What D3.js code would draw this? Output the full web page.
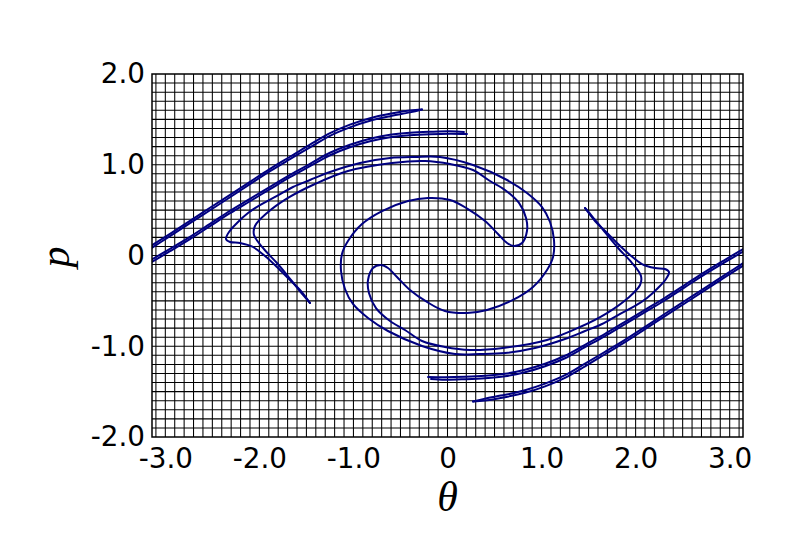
<!DOCTYPE html>
<html><head><meta charset="utf-8">
<script src="https://cdn.jsdelivr.net/npm/d3@7"></script>
<style>body{margin:0;background:#fff}svg{display:block}</style>
</head><body>
<svg id="c" width="789" height="541"></svg>
<script>
// ---- data (theta, p) ----
const xTicks = [-3, -2, -1, 0, 1, 2, 3];
const xTickLabels = ["-3.0", "-2.0", "-1.0", "0", "1.0", "2.0", "3.0"];
const yTicks = [-2, -1, 0, 1, 2];
const yTickLabels = ["-2.0", "-1.0", "0", "1.0", "2.0"];

const loopOuter = [[-1.462,-0.523],[-1.568,-0.380],[-1.675,-0.270],[-1.813,-0.127],[-1.940,-0.006],[-2.068,0.094],[-2.206,0.138],[-2.312,0.149],[-2.355,0.182],[-2.323,0.259],[-2.238,0.358],[-2.121,0.468],[-1.994,0.556],[-1.813,0.656],[-1.643,0.755],[-1.462,0.832],[-1.249,0.920],[-0.930,1.019],[-0.611,1.074],[-0.346,1.085],[-0.080,1.085],[0.271,0.997],[0.633,0.832],[0.845,0.689],[1.005,0.534],[1.090,0.369],[1.132,0.171],[1.122,-0.017],[1.058,-0.160],[0.909,-0.347],[0.696,-0.490],[0.420,-0.601],[0.207,-0.634],[-0.027,-0.612],[-0.218,-0.512],[-0.399,-0.380],[-0.537,-0.237],[-0.633,-0.138],[-0.707,-0.105],[-0.792,-0.138],[-0.845,-0.270],[-0.835,-0.413],[-0.760,-0.579],[-0.611,-0.722],[-0.452,-0.821],[-0.271,-0.942],[-0.027,-1.008],[0.239,-1.041],[0.590,-1.019],[1.058,-0.931],[1.409,-0.788],[1.696,-0.634],[1.919,-0.468],[2.047,-0.325],[2.057,-0.226],[1.962,-0.083],[1.813,0.083],[1.664,0.270],[1.536,0.435],[1.462,0.523]];

const loopInner = [[1.462,0.523],[1.568,0.380],[1.675,0.270],[1.813,0.127],[1.940,0.006],[2.068,-0.094],[2.206,-0.138],[2.312,-0.149],[2.355,-0.182],[2.323,-0.259],[2.238,-0.358],[2.121,-0.468],[1.994,-0.556],[1.813,-0.656],[1.643,-0.755],[1.462,-0.832],[1.249,-0.920],[0.930,-1.019],[0.611,-1.074],[0.346,-1.085],[0.080,-1.085],[-0.271,-0.997],[-0.633,-0.832],[-0.845,-0.689],[-1.005,-0.534],[-1.090,-0.369],[-1.132,-0.171],[-1.122,0.017],[-1.058,0.160],[-0.909,0.347],[-0.696,0.490],[-0.420,0.601],[-0.207,0.634],[0.027,0.612],[0.218,0.512],[0.399,0.380],[0.537,0.237],[0.633,0.138],[0.707,0.105],[0.792,0.138],[0.845,0.270],[0.835,0.413],[0.760,0.579],[0.611,0.722],[0.452,0.821],[0.271,0.942],[0.027,1.008],[-0.239,1.041],[-0.590,1.019],[-1.058,0.931],[-1.409,0.788],[-1.696,0.634],[-1.919,0.468],[-2.047,0.325],[-2.057,0.226],[-1.962,0.083],[-1.813,-0.083],[-1.664,-0.270],[-1.536,-0.435],[-1.462,-0.523]];

const strandT1a = [[-3.184,0.085],[-2.950,0.239],[-2.738,0.382],[-2.525,0.526],[-2.312,0.669],[-2.100,0.812],[-1.887,0.955],[-1.675,1.088],[-1.462,1.222],[-1.249,1.348],[-1.037,1.442],[-0.824,1.513],[-0.611,1.561],[-0.399,1.597],[-0.271,1.609]];
const strandT1b = [[-3.184,0.058],[-2.950,0.213],[-2.738,0.356],[-2.525,0.499],[-2.312,0.642],[-2.100,0.786],[-1.887,0.929],[-1.675,1.061],[-1.462,1.191],[-1.249,1.319],[-1.037,1.412],[-0.824,1.484],[-0.611,1.535],[-0.399,1.577],[-0.271,1.609]];
const strandT2a = [[-3.184,-0.069],[-2.950,0.074],[-2.738,0.206],[-2.525,0.349],[-2.312,0.493],[-2.100,0.625],[-1.887,0.757],[-1.675,0.889],[-1.462,1.010],[-1.249,1.132],[-1.037,1.220],[-0.824,1.286],[-0.611,1.330],[-0.399,1.352],[-0.186,1.363],[0.027,1.369],[0.175,1.361]];
const strandT2b = [[-3.184,-0.096],[-2.950,0.047],[-2.738,0.180],[-2.525,0.323],[-2.312,0.466],[-2.100,0.598],[-1.887,0.731],[-1.675,0.863],[-1.462,0.984],[-1.249,1.105],[-1.037,1.193],[-0.824,1.259],[-0.611,1.304],[-0.399,1.326],[-0.186,1.337],[0.027,1.342],[0.207,1.339]];
const strandM1a = [[3.184,-0.085],[2.950,-0.239],[2.738,-0.382],[2.525,-0.526],[2.312,-0.669],[2.100,-0.812],[1.887,-0.955],[1.675,-1.088],[1.462,-1.222],[1.249,-1.348],[1.037,-1.442],[0.824,-1.513],[0.611,-1.561],[0.399,-1.597],[0.271,-1.609]];
const strandM1b = [[3.184,-0.058],[2.950,-0.213],[2.738,-0.356],[2.525,-0.499],[2.312,-0.642],[2.100,-0.786],[1.887,-0.929],[1.675,-1.061],[1.462,-1.191],[1.249,-1.319],[1.037,-1.412],[0.824,-1.484],[0.611,-1.535],[0.399,-1.577],[0.271,-1.609]];
const strandM2a = [[3.184,0.069],[2.950,-0.074],[2.738,-0.206],[2.525,-0.349],[2.312,-0.493],[2.100,-0.625],[1.887,-0.757],[1.675,-0.889],[1.462,-1.010],[1.249,-1.132],[1.037,-1.220],[0.824,-1.286],[0.611,-1.330],[0.399,-1.352],[0.186,-1.363],[-0.027,-1.369],[-0.175,-1.361]];
const strandM2b = [[3.184,0.096],[2.950,-0.047],[2.738,-0.180],[2.525,-0.323],[2.312,-0.466],[2.100,-0.598],[1.887,-0.731],[1.675,-0.863],[1.462,-0.984],[1.249,-1.105],[1.037,-1.193],[0.824,-1.259],[0.611,-1.304],[0.399,-1.326],[0.186,-1.337],[-0.027,-1.342],[-0.207,-1.339]];

const curves = [loopOuter, loopInner, strandT1a, strandT1b, strandT2a, strandT2b, strandM1a, strandM1b, strandM2a, strandM2b];

// ---- layout ----
const L = 152, R = 743, T = 74, B = 437;
const svg = d3.select("#c");
const x = d3.scaleLinear().domain([-Math.PI, Math.PI]).range([L, R]);
const y = d3.scaleLinear().domain([-2, 2]).range([B, T]);

svg.append("defs").append("clipPath").attr("id", "clip")
  .append("rect").attr("x", L).attr("y", T).attr("width", R - L).attr("height", B - T);

// grid every 0.1
const gx = d3.range(-31, 32).map(i => i / 10);
const gy = d3.range(-19, 20).map(i => i / 10);
const grid = svg.append("g").attr("stroke", "#000").attr("stroke-width", 1.05);
grid.selectAll("line.gx").data(gx).join("line").attr("class", "gx")
  .attr("x1", d => x(d)).attr("x2", d => x(d)).attr("y1", T).attr("y2", B);
grid.selectAll("line.gy").data(gy).join("line").attr("class", "gy")
  .attr("y1", d => y(d)).attr("y2", d => y(d)).attr("x1", L).attr("x2", R);

// curves
const line = d3.line().x(d => x(d[0])).y(d => y(d[1])).curve(d3.curveCatmullRom.alpha(0.5));
svg.append("g").attr("clip-path", "url(#clip)")
  .selectAll("path").data(curves).join("path")
  .attr("d", line).attr("fill", "none").attr("stroke", "#000080")
  .attr("stroke-width", 2).attr("stroke-linejoin", "round").attr("stroke-linecap", "round");

// frame
svg.append("rect").attr("x", L).attr("y", T).attr("width", R - L).attr("height", B - T)
  .attr("fill", "none").attr("stroke", "#000").attr("stroke-width", 1.5);

// axes (tick labels only; ticks hidden under grid)
const xAxis = d3.axisBottom(x).tickValues(xTicks).tickFormat((d, i) => xTickLabels[i]).tickSize(0).tickPadding(11);
const gxa = svg.append("g").attr("transform", `translate(0,${B})`).call(xAxis);
const yAxis = d3.axisLeft(y).tickValues(yTicks).tickFormat((d, i) => yTickLabels[i]).tickSize(0).tickPadding(7);
const gya = svg.append("g").attr("transform", `translate(${L},0)`).call(yAxis);
[gxa, gya].forEach(g => {
  g.select(".domain").remove();
  g.selectAll("text").attr("fill", "#000").style("font-family", "'DejaVu Sans', sans-serif").style("font-size", "27.8px");
});

// axis labels
svg.append("text").attr("x", 447.5).attr("y", 511).attr("text-anchor", "middle")
  .style("font-family", "'Liberation Serif', serif").style("font-style", "italic").style("font-size", "42px")
  .text("θ");
svg.append("text").attr("transform", "translate(69,257) rotate(-90)").attr("text-anchor", "middle")
  .style("font-family", "'Liberation Serif', serif").style("font-style", "italic").style("font-size", "42px")
  .text("p");
</script>
</body></html>
